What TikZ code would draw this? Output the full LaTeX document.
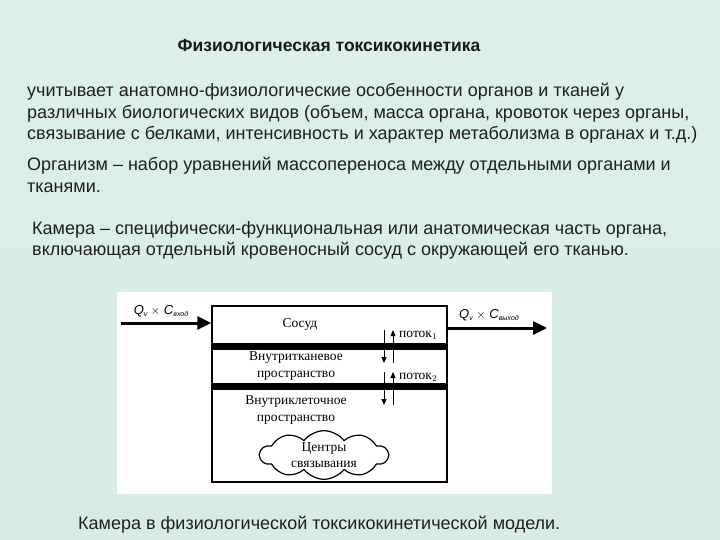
\documentclass[tikz,border=0pt]{standalone}
\usepackage{fontspec}
\setmainfont{Liberation Sans}
\newfontfamily\serifbox{Liberation Serif}
\usetikzlibrary{arrows.meta,shapes.symbols}
\definecolor{bgtop}{HTML}{C2D4CF}
\definecolor{bgmid}{HTML}{DBEFEB}
\definecolor{bgbot}{HTML}{C4D8D2}
\pgfdeclareverticalshading{bgshade}{720bp}{color(0bp)=(bgbot); color(290bp)=(bgmid); color(540bp)=(bgtop)}
\tikzset{
  bodytext/.style={anchor=base west,inner sep=0pt,font=\fontsize{18}{21}\selectfont,text=black!88},
  boxlabel/.style={inner sep=0pt,align=center,font=\serifbox\fontsize{13.5}{16.5}\selectfont},
  qlabel/.style={inner sep=0pt,font=\fontsize{13}{15}\selectfont},
  bigarrow/.style={line width=3pt,-{Triangle[length=14pt,width=13pt]}},
  fluxarrow/.style={line width=1pt,-{Triangle[length=6pt,width=5pt]}},
  bar/.style={fill=black,draw=none}
}
\newcommand\qsub[1]{\raisebox{-0.35ex}{\fontsize{7}{8}\selectfont\itshape #1}}
\begin{document}
\begin{tikzpicture}[x=1pt,y=-1pt]
\useasboundingbox (0,0) rectangle (720,540);
\shade[shading=bgshade] (0,0) rectangle (720,540);

% title
\node[anchor=base,inner sep=0pt,font=\bfseries\fontsize{17.5}{20}\selectfont,text=black!90] (title) at (329,52) {Физиологическая токсикокинетика};

% paragraphs
\node[bodytext] (p1a) at (27,97) {учитывает анатомно-физиологические особенности органов и тканей у};
\node[bodytext] (p1b) at (27,118.5) {различных биологических видов (объем, масса органа, кровоток через органы,};
\node[bodytext] (p1c) at (27,140) {связывание с белками, интенсивность и характер метаболизма в органах и т.д.)};
\node[bodytext] (p2a) at (27,171) {Организм – набор уравнений массопереноса между отдельными органами и};
\node[bodytext] (p2b) at (27,193) {тканями.};
\node[bodytext] (p3a) at (32,234) {Камера – специфически-функциональная или анатомическая часть органа,};
\node[bodytext] (p3b) at (32,255.5) {включающая отдельный кровеносный сосуд с окружающей его тканью.};
\node[bodytext] (cap) at (78,529) {Камера в физиологической токсикокинетической модели.};

% diagram background
\fill[white] (117,292) rectangle (552,494);

% main box
\node[draw,line width=1.4pt,minimum width=235pt,minimum height=176pt,inner sep=0pt] (box) at (329.5,394) {};
\fill[bar] (212,343) rectangle (447,349.5);
\fill[bar] (212,383) rectangle (447,389.5);

% in/out arrows
\coordinate (inA) at (121,323);
\coordinate (outB) at (547,328);
\draw[bigarrow] (inA) -- (box.west |- inA);
\draw[bigarrow] (box.east |- outB) -- (outB);
\node[qlabel] (qin) at (161,311) {\textit{Q}\qsub{v} $\times$ \textit{C}\qsub{вход}};
\node[qlabel] (qout) at (489,315) {\textit{Q}\qsub{v} $\times$ \textit{C}\qsub{выход}};

% labels
\node[boxlabel] (sosud) at (300,324) {Сосуд};
\node[boxlabel] (vtk) at (296,366) {Внутритканевое\\[1pt]пространство};
\node[boxlabel] (vkl) at (296,410) {Внутриклеточное\\[1pt]пространство};

% flux arrows
\coordinate (f1t) at (384,330);
\coordinate (f1b) at (384,363);
\coordinate (f1tu) at (393,330);
\coordinate (f1bu) at (393,363);
\draw[fluxarrow] (f1t) -- (f1b);
\draw[fluxarrow] (f1bu) -- (f1tu);
\coordinate (f2t) at (384,372);
\coordinate (f2b) at (384,405);
\coordinate (f2tu) at (393,372);
\coordinate (f2bu) at (393,405);
\draw[fluxarrow] (f2t) -- (f2b);
\draw[fluxarrow] (f2bu) -- (f2tu);
\node[anchor=west,inner sep=0pt,font=\serifbox\fontsize{13.5}{15}\selectfont] (pot1) at (399,335) {поток$_1$};
\node[anchor=west,inner sep=0pt,font=\serifbox\fontsize{13.5}{15}\selectfont] (pot2) at (399,377) {поток$_2$};

% cloud
\node[cloud,draw,line width=1.2pt,cloud puffs=10,cloud puff arc=105,aspect=2.8,
      minimum width=128pt,minimum height=47pt,inner sep=0pt,align=center,
      font=\serifbox\fontsize{13.5}{16}\selectfont] (cloud) at (324,455) {Центры\\связывания};
\end{tikzpicture}
\end{document}
